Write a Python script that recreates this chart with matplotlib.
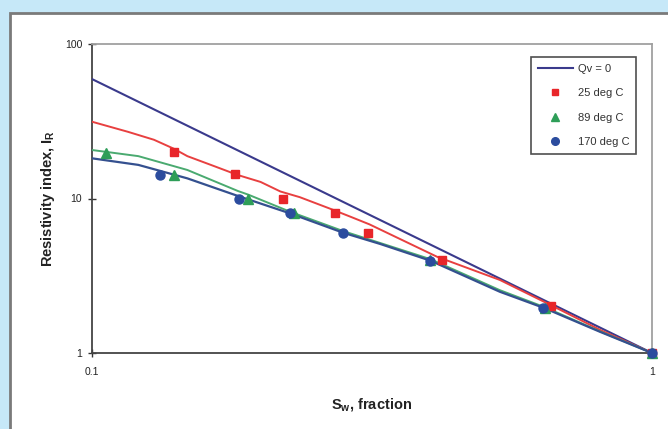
import matplotlib
matplotlib.use("Agg")
import matplotlib.pyplot as plt
from matplotlib.patches import Rectangle
from matplotlib.lines import Line2D

plt.rcParams['font.family'] = ['Liberation Sans', 'DejaVu Sans']
plt.rcParams['mathtext.fontset'] = 'custom'
plt.rcParams['mathtext.rm'] = 'Liberation Sans'
plt.rcParams['mathtext.bf'] = 'Liberation Sans:bold'
plt.rcParams['mathtext.it'] = 'Liberation Sans:italic'

# ---- data ----
qv0_sw = [0.1, 1.0]
qv0_ir = [59.3, 1.0]

fit25_sw = [0.100, 0.116, 0.129, 0.140, 0.148, 0.166, 0.182, 0.200, 0.217, 0.235,
            0.266, 0.290, 0.313, 0.350, 0.413, 0.535, 0.660, 0.808, 1.0]
fit25_ir = [31.4, 27.0, 24.0, 21.0, 18.8, 16.1, 14.2, 12.8, 11.1, 10.2,
            8.6, 7.6, 6.8, 5.6, 4.2, 2.97, 2.04, 1.41, 1.0]

fit89_sw = [0.100, 0.121, 0.148, 0.182, 0.190, 0.226, 0.281, 0.402, 0.535, 0.643, 0.808, 1.0]
fit89_ir = [20.6, 18.8, 15.3, 11.2, 10.6, 8.2, 6.15, 4.05, 2.55, 1.98, 1.38, 1.0]

fit170_sw = [0.100, 0.121, 0.148, 0.182, 0.226, 0.281, 0.327, 0.402, 0.535, 0.643, 0.808, 1.0]
fit170_ir = [18.2, 16.5, 13.5, 10.4, 8.0, 6.0, 5.08, 3.96, 2.49, 1.95, 1.37, 1.0]

pts25_sw = [0.140, 0.180, 0.219, 0.272, 0.311, 0.421, 0.660, 1.0]
pts25_ir = [20.1, 14.4, 10.0, 8.1, 6.0, 4.0, 2.0, 1.0]

pts89_sw = [0.106, 0.140, 0.190, 0.229, 0.402, 0.645, 1.0]
pts89_ir = [19.8, 14.2, 9.9, 8.0, 4.0, 1.97, 1.0]

pts170_sw = [0.132, 0.183, 0.226, 0.281, 0.402, 0.639, 1.0]
pts170_ir = [14.2, 9.9, 8.0, 5.95, 3.94, 1.95, 1.0]

legend_labels = ["Qv = 0", "25 deg C", "89 deg C", "170 deg C"]

c_qv = "#3a3a8c"
c_red = "#e8262a"
c_redline = "#e84040"
c_green = "#2e9e58"
c_greenline = "#4aaa70"
c_blue = "#2b4c9e"
c_blueline = "#34508f"

W, H = 668, 429
fig = plt.figure(figsize=(W / 100, H / 100), dpi=100)
fig.patch.set_facecolor("#c6e8f8")

panel = Rectangle((10 / W, -0.02), 1.0, 1 - 13 / H + 0.02, transform=fig.transFigure,
                  facecolor="white", edgecolor="#7a7a7a", linewidth=2.0, zorder=-5)
fig.patches.append(panel)

ax = fig.add_axes([92 / W, 1 - 353 / H, (652 - 92) / W, (353 - 44) / H])
ax.set_zorder(2)
ax.set_facecolor("white")
ax.set_xscale("log")
ax.set_yscale("log")
ax.set_xlim(0.1, 1.0)
ax.set_ylim(1, 100)

ax.plot(qv0_sw, qv0_ir, color=c_qv, lw=1.5, zorder=3)
ax.plot(fit25_sw, fit25_ir, color=c_redline, lw=1.4, zorder=3)
ax.plot(fit89_sw, fit89_ir, color=c_greenline, lw=1.4, zorder=3)
ax.plot(fit170_sw, fit170_ir, color=c_blueline, lw=1.6, zorder=3)

ax.plot(pts25_sw, pts25_ir, ls="none", marker="s", ms=6, color=c_red, zorder=4, clip_on=False)
ax.plot(pts89_sw, pts89_ir, ls="none", marker="^", ms=6.5, color=c_green, zorder=4, clip_on=False)
ax.plot(pts170_sw, pts170_ir, ls="none", marker="o", ms=6.5, color=c_blue, zorder=5, clip_on=False)

ax.set_xticks([0.1, 1.0])
ax.set_xticklabels(["0.1", "1"])
ax.set_yticks([1, 10, 100])
ax.set_yticklabels(["1", "10", "100"])
ax.minorticks_off()
ax.tick_params(axis="both", which="major", direction="inout", length=6, width=1,
               labelsize=7.5, colors="#333333", labelcolor="#222222")
ax.tick_params(axis="x", pad=7)
ax.tick_params(axis="y", pad=4)

for s in ["left", "bottom"]:
    ax.spines[s].set_color("#444444")
    ax.spines[s].set_linewidth(1.3)
for s in ["top", "right"]:
    ax.spines[s].set_color("#a0a0a0")
    ax.spines[s].set_linewidth(1.3)

ax.set_xlabel(r"S$_{\mathbf{w}}$, fraction", fontsize=10.5, fontweight="bold", color="#222222", labelpad=14)
ax.set_ylabel(r"Resistivity index, I$_{\mathbf{R}}$", fontsize=10.5, fontweight="bold", color="#222222", labelpad=6)

handles = [
    Line2D([], [], color=c_qv, lw=1.5),
    Line2D([], [], ls="none", marker="s", ms=5, color=c_red),
    Line2D([], [], ls="none", marker="^", ms=5.5, color=c_green),
    Line2D([], [], ls="none", marker="o", ms=5.5, color=c_blue),
]
leg = ax.legend(handles, legend_labels, loc="upper right", bbox_to_anchor=(636 / W, 1 - 57 / H),
                bbox_transform=fig.transFigure, fontsize=8, frameon=True, fancybox=False,
                edgecolor="#222222", handlelength=3.2, handletextpad=0.4, labelspacing=1.3,
                borderpad=0.6, borderaxespad=0)
leg.get_frame().set_linewidth(1.2)
for t in leg.get_texts():
    t.set_color("#333333")

fig.savefig("out.png", dpi=100, facecolor=fig.get_facecolor())
